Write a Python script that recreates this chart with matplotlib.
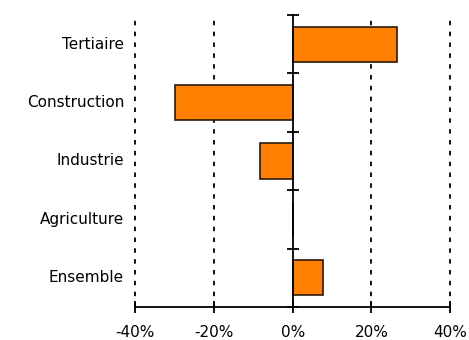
import matplotlib
matplotlib.use("Agg")
import matplotlib.pyplot as plt
import numpy as np

categories = ["Tertiaire", "Construction", "Industrie", "Agriculture", "Ensemble"]
values = [26.6, -29.9, -8.4, 0.0, 7.6]
xticks = [-40, -20, 0, 20, 40]
xtick_labels = ["-40%", "-20%", "0%", "20%", "40%"]

fig = plt.figure(figsize=(4.69, 3.40), dpi=100)
ax = fig.add_axes([0.288, 0.097, 0.672, 0.859])

y = np.arange(len(categories))
ax.barh(y, values, height=0.6, color="#FF8000", edgecolor="#2a1a0a", linewidth=1.2, zorder=3)

ax.set_xlim(xticks[0], xticks[-1])
ax.set_ylim(len(categories) - 0.5, -0.5)

# dashed vertical gridlines
for xv in xticks:
    if xv != 0:
        ax.axvline(xv, color="black", linestyle=(0, (2.5, 3.5)), linewidth=1.3,
                   zorder=1, clip_on=False)

for s in ["top", "right"]:
    ax.spines[s].set_visible(False)
ax.spines["left"].set_position(("data", 0))
ax.spines["left"].set_linewidth(1.3)
ax.spines["left"].set_zorder(4)
ax.spines["bottom"].set_linewidth(1.3)

# zero axis with cross ticks on category boundaries
ax.set_yticks(np.arange(len(categories) + 1) - 0.5)
ax.set_yticklabels([])
ax.tick_params(axis="y", direction="inout", length=9, width=1.3)

ax.set_xticks(xticks)
ax.set_xticklabels(xtick_labels, fontsize=11)
ax.tick_params(axis="x", direction="inout", length=8, width=1.3, pad=9)

for yi, name in zip(y, categories):
    ax.text(-0.035, yi, name, transform=ax.get_yaxis_transform(),
            ha="right", va="center", fontsize=11)

fig.savefig("out.png", dpi=100)
